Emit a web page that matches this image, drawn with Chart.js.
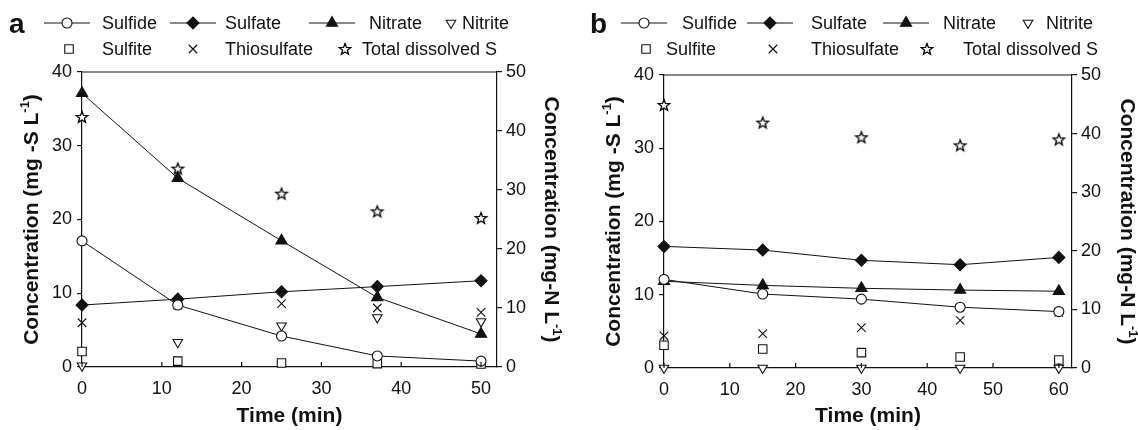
<!DOCTYPE html>
<html>
<head>
<meta charset="utf-8">
<script src="https://cdn.jsdelivr.net/npm/chart.js@4.4.0/dist/chart.umd.min.js"></script>
<style>
  html, body { margin: 0; padding: 0; background: #fff; }
  #wrap { position: relative; width: 1138px; height: 430px; }
  canvas { position: absolute; top: 0; }
  #chartA { left: 0; }
  #chartB { left: 569px; }
</style>
</head>
<body>
<div id="wrap">
  <canvas id="chartA" width="569" height="430"></canvas>
  <canvas id="chartB" width="569" height="430"></canvas>
</div>
<script>
const FONT = "'Liberation Sans', Arial, sans-serif";
const INK = '#111';

// panel a (time in min)
const timeA = [0, 12, 25, 37, 50];
const sulfideA = [17.1, 8.4, 4.2, 1.5, 0.8];
const sulfateA = [8.4, 9.2, 10.2, 10.9, 11.7];
const nitrateA = [46.4, 32.0, 21.4, 11.8, 5.6];   // mg-N/L, right axis
const nitriteA = [0.2, 4.2, 7.0, 8.4, 7.7];       // mg-N/L, right axis
const sulfiteA = [2.1, 0.8, 0.55, 0.45, 0.4];
const thioA = [6.0, 8.4, 8.6, 8.0, 7.4];
const totalSA = [33.9, 26.9, 23.5, 21.1, 20.2];

// panel b
const timeB = [0, 15, 30, 45, 60];
const sulfideB = [12.1, 10.1, 9.4, 8.3, 7.7];
const sulfateB = [16.6, 16.1, 14.7, 14.1, 15.1];
const nitrateB = [14.8, 14.1, 13.6, 13.3, 13.1];
const nitriteB = [0, 0, 0, 0, 0];
const sulfiteB = [3.1, 2.6, 2.1, 1.5, 1.1];
const thioB = [4.4, 4.7, 5.5, 6.5, 7.6];
const totalSB = [35.9, 33.5, 31.5, 30.4, 31.2];

const xTicksA = [0, 10, 20, 30, 40, 50];
const xTicksB = [0, 10, 20, 30, 40, 50, 60];
const leftTicks = [0, 10, 20, 30, 40];
const rightTicks = [0, 10, 20, 30, 40, 50];

function starImage(r) {
  const c = document.createElement('canvas');
  c.width = c.height = Math.ceil(2 * r + 4);
  const g = c.getContext('2d');
  g.translate(c.width / 2, c.height / 2 + 0.5);
  g.beginPath();
  for (let i = 0; i < 10; i++) {
    const rr = i % 2 ? r * 0.42 : r;
    const ang = -Math.PI / 2 + i * Math.PI / 5;
    g.lineTo(rr * Math.cos(ang), rr * Math.sin(ang));
  }
  g.closePath();
  g.fillStyle = '#fff';
  g.fill();
  g.strokeStyle = '#000';
  g.lineWidth = 1.3;
  g.stroke();
  return c;
}
const STAR = starImage(6);

const styles = {
  sulfide: { pointStyle: 'circle', radius: 5, fill: '#fff', line: true },
  sulfate: { pointStyle: 'rectRot', radius: 6, fill: INK, line: true },
  nitrate: { pointStyle: 'triangle', radius: 6.5, fill: INK, line: true },
  nitrite: { pointStyle: 'triangle', rotation: 180, radius: 5.5, fill: '#fff' },
  sulfite: { pointStyle: 'rect', radius: 6, fill: '#fff' },
  thio: { pointStyle: 'crossRot', radius: 6, fill: INK },
  total: { pointStyle: STAR, radius: 6, fill: '#fff' }
};

function ds(label, xs, ys, st, axis) {
  return {
    label: label,
    data: xs.map((x, i) => ({ x: x, y: ys[i] })),
    yAxisID: axis,
    showLine: !!st.line,
    borderColor: INK,
    borderWidth: 1,
    pointStyle: st.pointStyle,
    pointRadius: st.radius,
    pointHoverRadius: st.radius,
    pointRotation: st.rotation || 0,
    pointBackgroundColor: st.fill,
    pointBorderColor: INK,
    pointBorderWidth: 1.1,
    clip: false,
    fill: false
  };
}

function drawMark(ctx, st, x, y) {
  ctx.save();
  ctx.strokeStyle = INK;
  ctx.fillStyle = st.fill;
  ctx.lineWidth = 1.1;
  Chart.helpers.drawPoint(ctx, {
    pointStyle: st.pointStyle, radius: st.radius, rotation: st.rotation || 0, borderWidth: 1.1
  }, x, y);
  ctx.restore();
}

function richText(ctx, parts, cx, cy, angle) {
  ctx.save();
  ctx.translate(cx, cy);
  ctx.rotate(angle);
  const mainF = 'bold 21px ' + FONT;
  const supF = 'bold 13px ' + FONT;
  let w = 0;
  parts.forEach(p => { ctx.font = p.sup ? supF : mainF; p.w = ctx.measureText(p.t).width; w += p.w; });
  let x = -w / 2;
  ctx.textBaseline = 'alphabetic';
  ctx.fillStyle = INK;
  parts.forEach(p => {
    ctx.font = p.sup ? supF : mainF;
    ctx.fillText(p.t, x, p.sup ? -1 : 7.5);
    x += p.w;
  });
  ctx.restore();
}

const decor = {
  id: 'decor',
  afterDraw(chart, args, o) {
    const ctx = chart.ctx, a = chart.chartArea, xs = chart.scales.x;
    ctx.save();
    ctx.strokeStyle = INK;
    ctx.lineWidth = 1.2;
    ctx.beginPath();
    ctx.moveTo(a.left, a.top);
    ctx.lineTo(a.right, a.top);
    ctx.stroke();
    xs.ticks.forEach(t => {
      const px = xs.getPixelForValue(t.value);
      ctx.beginPath();
      ctx.moveTo(px, a.bottom);
      ctx.lineTo(px, a.bottom - 5);
      ctx.stroke();
    });

    // axis titles
    richText(ctx, [{ t: 'Concentration (mg -S L' }, { t: '-1', sup: true }, { t: ')' }],
      o.leftTitleX, (a.top + a.bottom) / 2, -Math.PI / 2);
    richText(ctx, [{ t: 'Concentration (mg-N L' }, { t: '-1', sup: true }, { t: ')' }],
      o.rightTitleX, (a.top + a.bottom) / 2, Math.PI / 2);
    richText(ctx, [{ t: 'Time (min)' }], (a.left + a.right) / 2, o.xTitleY, 0);

    // panel letter
    ctx.fillStyle = INK;
    ctx.font = 'bold 28px ' + FONT;
    ctx.textBaseline = 'alphabetic';
    ctx.fillText(o.letter, o.letterX, 33);

    // legend
    ctx.font = '18px ' + FONT;
    ctx.textBaseline = 'middle';
    o.legend.forEach(it => {
      const st = styles[it.key];
      const y = o.rows[it.row];
      if (st.line) {
        ctx.strokeStyle = INK;
        ctx.lineWidth = 1;
        ctx.beginPath();
        ctx.moveTo(it.mx - 23, y);
        ctx.lineTo(it.mx + 23, y);
        ctx.stroke();
      }
      drawMark(ctx, st, it.mx, y);
      ctx.fillStyle = INK;
      ctx.fillText(it.text, it.tx, y + 1);
    });
    ctx.restore();
  }
};

function makeChart(id, p, series) {
  const tickFont = { family: FONT, size: 18 };
  return new Chart(document.getElementById(id), {
    type: 'scatter',
    data: { datasets: series },
    plugins: [decor],
    options: {
      responsive: false,
      animation: false,
      layout: { padding: { top: p.top, left: 0, right: 0, bottom: 0 } },
      plugins: {
        legend: { display: false },
        tooltip: { enabled: false },
        decor: p.decor
      },
      scales: {
        x: {
          type: 'linear', min: 0, max: p.xMax,
          afterBuildTicks: s => { s.ticks = p.xTicks.map(v => ({ value: v })); },
          afterFit: s => { s.height = p.xH; },
          ticks: { font: tickFont, color: INK, padding: 11, maxRotation: 0, autoSkip: false },
          grid: { display: true, drawOnChartArea: false, drawTicks: false },
          border: { color: INK, width: 1.2 }
        },
        y: {
          position: 'left', min: 0, max: 40,
          afterBuildTicks: s => { s.ticks = leftTicks.map(v => ({ value: v })); },
          afterFit: s => { s.width = p.yLW; },
          ticks: { font: tickFont, color: INK, padding: 5 },
          grid: { drawOnChartArea: false, tickLength: 5, color: INK, lineWidth: 1.2 },
          border: { color: INK, width: 1.2 }
        },
        y2: {
          position: 'right', min: 0, max: 50,
          afterBuildTicks: s => { s.ticks = rightTicks.map(v => ({ value: v })); },
          afterFit: s => { s.width = p.yRW; },
          ticks: { font: tickFont, color: INK, padding: 4 },
          grid: { drawOnChartArea: false, tickLength: 5, color: INK, lineWidth: 1.2 },
          border: { color: INK, width: 1.2 }
        }
      }
    }
  });
}

makeChart('chartA', {
  xMax: 52, xTicks: xTicksA, top: 72, xH: 63, yLW: 82, yRW: 72,
  decor: {
    letter: 'a', letterX: 9, leftTitleX: 30, rightTitleX: 552, xTitleY: 414,
    rows: [23, 49],
    legend: [
      { key: 'sulfide', text: 'Sulfide', mx: 67, tx: 102, row: 0 },
      { key: 'sulfate', text: 'Sulfate', mx: 193, tx: 225, row: 0 },
      { key: 'nitrate', text: 'Nitrate', mx: 332, tx: 369, row: 0 },
      { key: 'nitrite', text: 'Nitrite', mx: 451, tx: 462, row: 0 },
      { key: 'sulfite', text: 'Sulfite', mx: 69, tx: 102, row: 1 },
      { key: 'thio', text: 'Thiosulfate', mx: 193, tx: 225, row: 1 },
      { key: 'total', text: 'Total dissolved S', mx: 345, tx: 362, row: 1 }
    ]
  }
}, [
  ds('Sulfide', timeA, sulfideA, styles.sulfide, 'y'),
  ds('Sulfate', timeA, sulfateA, styles.sulfate, 'y'),
  ds('Nitrate', timeA, nitrateA, styles.nitrate, 'y2'),
  ds('Nitrite', timeA, nitriteA, styles.nitrite, 'y2'),
  ds('Sulfite', timeA, sulfiteA, styles.sulfite, 'y'),
  ds('Thiosulfate', timeA, thioA, styles.thio, 'y'),
  ds('Total dissolved S', timeA, totalSA, styles.total, 'y')
]);

makeChart('chartB', {
  xMax: 62, xTicks: xTicksB, top: 75, xH: 62, yLW: 95, yRW: 66,
  decor: {
    letter: 'b', letterX: 21, leftTitleX: 43, rightTitleX: 559, xTitleY: 414,
    rows: [23, 49],
    legend: [
      { key: 'sulfide', text: 'Sulfide', mx: 75, tx: 113, row: 0 },
      { key: 'sulfate', text: 'Sulfate', mx: 201, tx: 242, row: 0 },
      { key: 'nitrate', text: 'Nitrate', mx: 337, tx: 374, row: 0 },
      { key: 'nitrite', text: 'Nitrite', mx: 459, tx: 477, row: 0 },
      { key: 'sulfite', text: 'Sulfite', mx: 77, tx: 97, row: 1 },
      { key: 'thio', text: 'Thiosulfate', mx: 204, tx: 242, row: 1 },
      { key: 'total', text: 'Total dissolved S', mx: 358, tx: 394, row: 1 }
    ]
  }
}, [
  ds('Sulfide', timeB, sulfideB, styles.sulfide, 'y'),
  ds('Sulfate', timeB, sulfateB, styles.sulfate, 'y'),
  ds('Nitrate', timeB, nitrateB, styles.nitrate, 'y2'),
  ds('Nitrite', timeB, nitriteB, styles.nitrite, 'y2'),
  ds('Sulfite', timeB, sulfiteB, styles.sulfite, 'y'),
  ds('Thiosulfate', timeB, thioB, styles.thio, 'y'),
  ds('Total dissolved S', timeB, totalSB, styles.total, 'y')
]);
</script>
</body>
</html>
